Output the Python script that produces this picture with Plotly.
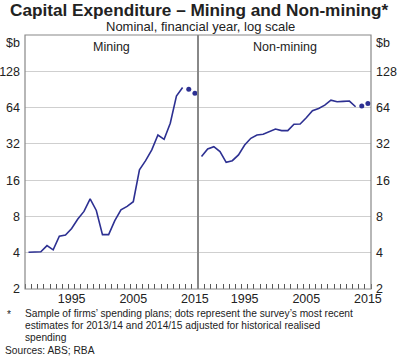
import plotly.graph_objects as go

years = list(range(1988, 2014))
mining = [4.03, 4.03, 4.07, 4.58, 4.22, 5.49, 5.6, 6.36, 7.62, 8.8, 11.2, 8.97, 5.65,
          5.65, 7.37, 9.09, 9.68, 10.6, 19.5, 23.2, 28.5, 37.9, 34.9, 47.4, 79.7, 94.0]
nonmining = [25.1, 29.0, 30.3, 27.6, 22.5, 23.2, 25.9, 31.3, 35.6, 37.9, 38.4, 40.4, 42.5,
             41.2, 41.2, 46.5, 46.7, 52.7, 60.2, 63.0, 67.1, 73.8, 71.5, 72.0, 72.5, 65.0]
plan_years = [2014, 2015]
mining_plans = [91, 84]
nonmining_plans = [65.9, 69.3]
ytick_vals = [2, 4, 8, 16, 32, 64, 128]
xtick_vals = [1995, 2005, 2015]

LINE = "#2d3092"
FONT = "Liberation Sans, Arial, sans-serif"
W, H = 400, 357
ML, MR, MT, MB = 25, 29, 35, 68
PW, PH = W - ML - MR, H - MT - MB


def px(x):
    return (x - ML) / PW


def py(y):
    return (H - MB - y) / PH


fig = go.Figure()
fig.add_trace(go.Scatter(x=years, y=mining, mode="lines", line=dict(color=LINE, width=1.6),
                         xaxis="x", yaxis="y", showlegend=False))
fig.add_trace(go.Scatter(x=plan_years, y=mining_plans, mode="markers",
                         marker=dict(color=LINE, size=5), xaxis="x", yaxis="y", showlegend=False))
fig.add_trace(go.Scatter(x=years, y=nonmining, mode="lines", line=dict(color=LINE, width=1.6),
                         xaxis="x2", yaxis="y2", showlegend=False))
fig.add_trace(go.Scatter(x=plan_years, y=nonmining_plans, mode="markers",
                         marker=dict(color=LINE, size=5), xaxis="x2", yaxis="y2", showlegend=False))

xcommon = dict(range=[1987.43, 2015.5], tickmode="array", tickvals=xtick_vals,
               ticks="", showgrid=False, zeroline=False, showline=False, automargin=False,
               tickfont=dict(family=FONT, size=12.5, color="#222"),
               minor=dict(tickmode="linear", tick0=0.5, dtick=1, ticks="inside",
                          ticklen=5, tickcolor="#555", tickwidth=1, showgrid=False))
ylog = [0.30103, 2.40824]
ycommon = dict(type="log", range=ylog, tickmode="array", tickvals=ytick_vals,
               ticktext=[str(v) for v in ytick_vals], showgrid=True, gridcolor="#cfcfcf",
               gridwidth=1, zeroline=False, showline=False, ticks="", automargin=False,
               tickfont=dict(family=FONT, size=12.5, color="#222"))

fig.update_layout(
    width=W, height=H, margin=dict(l=ML, r=MR, t=MT, b=MB, autoexpand=False),
    paper_bgcolor="white", plot_bgcolor="white",
    xaxis=dict(domain=[0, 0.5], anchor="y", **xcommon),
    xaxis2=dict(domain=[0.5, 1], anchor="y2", **xcommon),
    yaxis=dict(domain=[0, 1], anchor="x", side="left", ticklabelstandoff=4, **ycommon),
    yaxis2=dict(domain=[0, 1], anchor="x2", side="right", overlaying="y",
                ticklabelstandoff=4, **ycommon),
    font=dict(family=FONT, color="#222"),
)

fig.add_shape(type="rect", xref="paper", yref="paper", x0=0, x1=1, y0=0, y1=1,
              line=dict(color="#888", width=1.2), layer="above")
fig.add_shape(type="line", xref="paper", yref="paper", x0=0.5, x1=0.5, y0=0, y1=1,
              line=dict(color="#888", width=2), layer="above")

ann = [
    dict(text="<b>Capital Expenditure – Mining and Non-mining*</b>", x=px(199), y=py(10),
         size=17.2, xanchor="center"),
    dict(text="Nominal, financial year, log scale", x=px(200), y=py(26.5), size=13,
         xanchor="center"),
    dict(text="$b", x=px(21), y=py(43), size=12.5, xanchor="right"),
    dict(text="$b", x=px(375), y=py(43), size=12.5, xanchor="left"),
    dict(text="Mining", x=px(111), y=py(47), size=12.5, xanchor="center"),
    dict(text="Non-mining", x=px(285), y=py(47), size=12.5, xanchor="center"),
    dict(text="*", x=px(6), y=py(314), size=10.2, xanchor="left"),
    dict(text="Sample of firms’ spending plans; dots represent the survey’s most recent",
         x=px(24), y=py(313), size=10.2, xanchor="left"),
    dict(text="estimates for 2013/14 and 2014/15 adjusted for historical realised",
         x=px(24), y=py(325), size=10.2, xanchor="left"),
    dict(text="spending", x=px(24), y=py(337), size=10.2, xanchor="left"),
    dict(text="Sources: ABS; RBA", x=px(4), y=py(350), size=10.2, xanchor="left"),
]
for a in ann:
    fig.add_annotation(text=a["text"], x=a["x"], y=a["y"], xref="paper", yref="paper",
                       xanchor=a["xanchor"], yanchor="middle", showarrow=False,
                       borderpad=0, font=dict(family=FONT, size=a["size"], color="#222"))

fig.write_html("out.html", config={"displayModeBar": False},
               post_script="document.body.style.margin='0';"
               "document.body.style.overflow='hidden';")
